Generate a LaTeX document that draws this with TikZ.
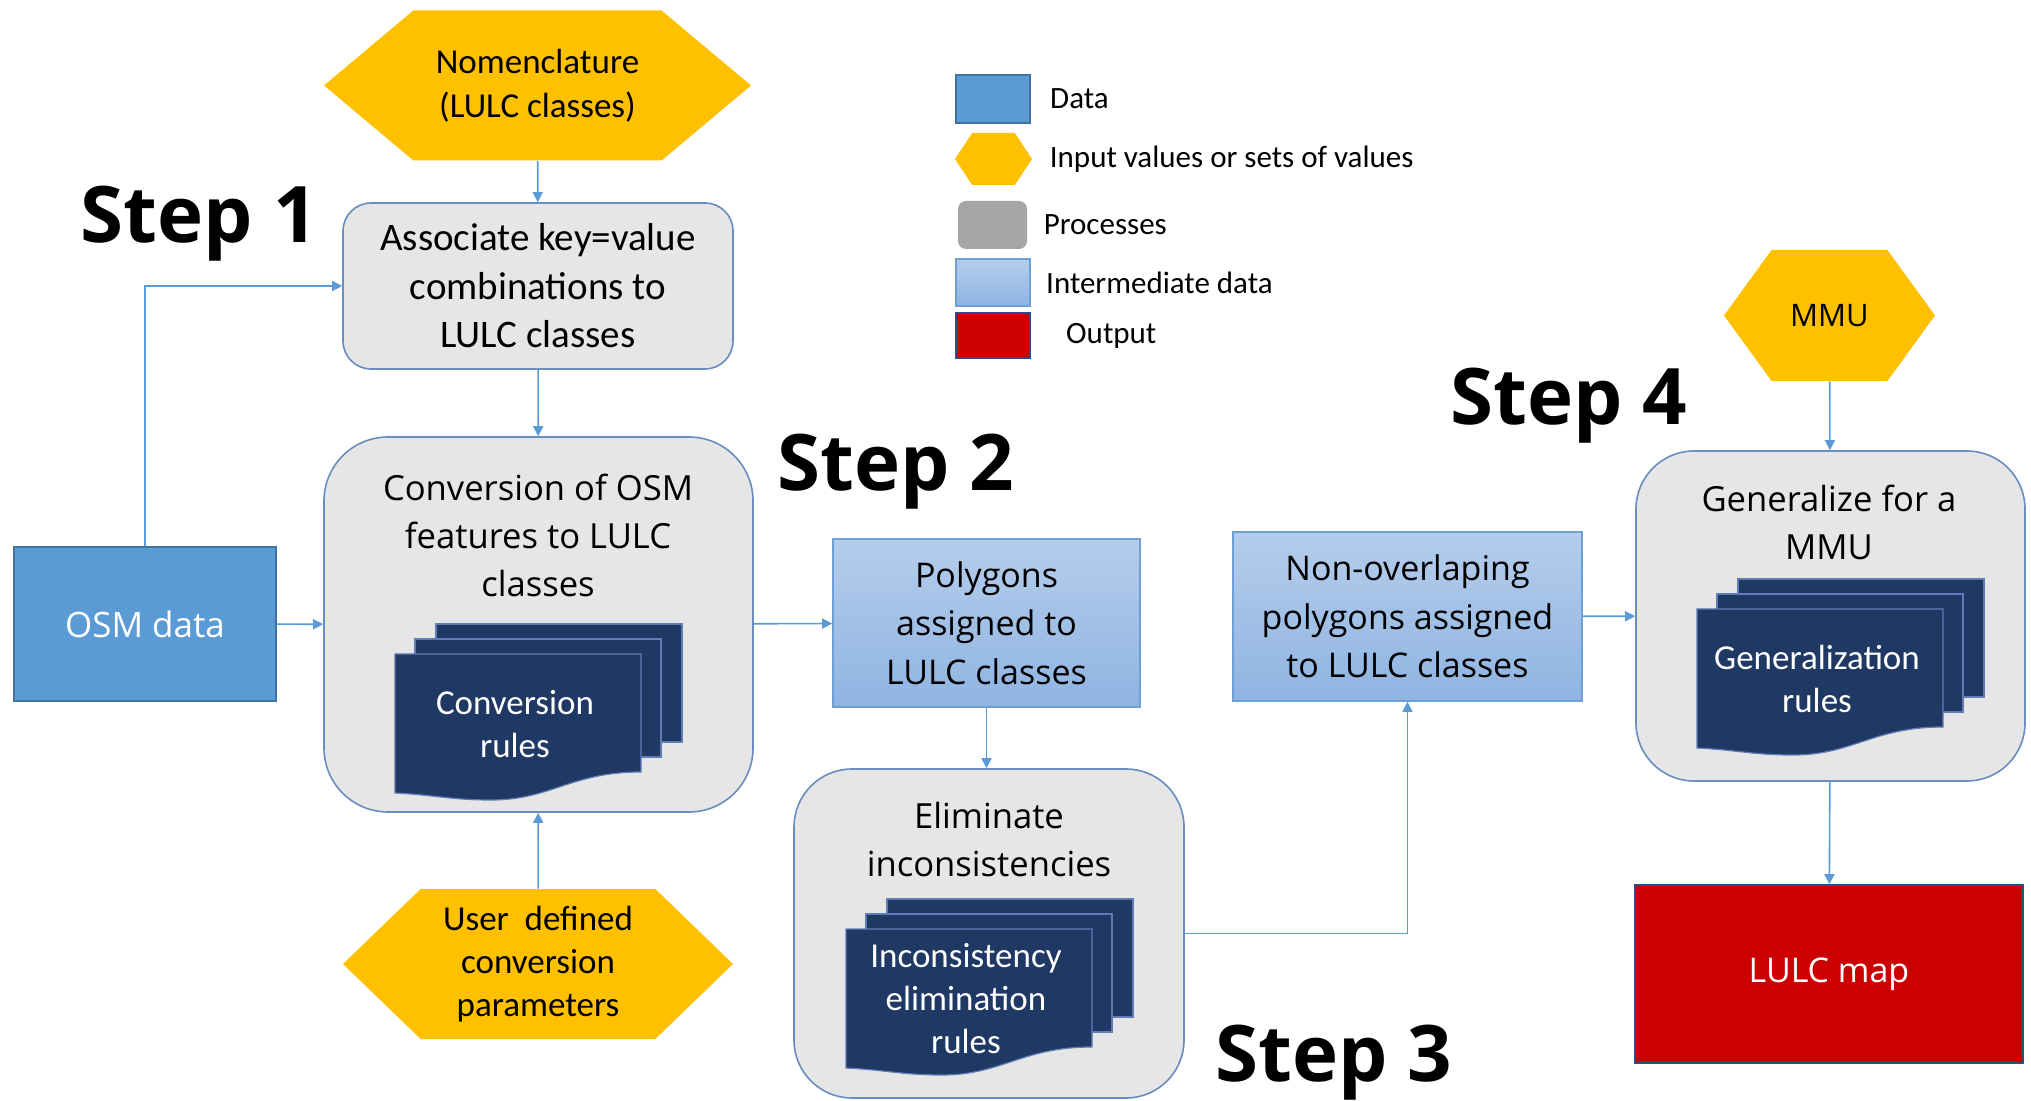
\documentclass[tikz,border=0pt]{standalone}
\usepackage{fontspec}
\setmainfont{Open Sans}
\newfontfamily\calib{Carlito}
\usetikzlibrary{arrows.meta,shapes.symbols,positioning}

\definecolor{datablue}{RGB}{91,155,213}
\definecolor{databorder}{RGB}{65,113,156}
\definecolor{inputgold}{RGB}{255,192,0}
\definecolor{procgray}{RGB}{230,230,230}
\definecolor{procline}{RGB}{104,141,190}
\definecolor{leggray}{RGB}{166,166,166}
\definecolor{interhigh}{RGB}{181,205,235}
\definecolor{interlow}{RGB}{143,180,226}
\definecolor{interline}{RGB}{110,160,215}
\definecolor{outred}{RGB}{204,0,0}
\definecolor{outborder}{RGB}{50,75,130}
\definecolor{docnavy}{RGB}{32,56,100}
\definecolor{docedge}{RGB}{95,125,180}
\definecolor{linkblue}{RGB}{91,155,213}

\tikzset{
  databox/.style={rectangle, fill=datablue, draw=databorder, line width=0.8pt,
    text=white, align=center, font=\fontsize{17.5}{24}\selectfont},
  inputhex/.style={signal, signal to=east and west, fill=inputgold, inner sep=0pt, align=center},
  procbox/.style={rectangle, rounded corners=#1, fill=procgray, draw=procline, line width=0.8pt},
  procbox/.default=14pt,
  interbox/.style={rectangle, top color=interhigh, bottom color=interlow, draw=interline,
    line width=0.8pt, align=center, font=\fontsize{17}{24.3}\selectfont},
  outbox/.style={rectangle, fill=outred, draw=outborder, line width=0.8pt,
    text=white, align=center, font=\fontsize{17}{24}\selectfont},
  rulesdoc/.style={fill=docnavy, draw=docedge, line width=0.6pt},
  ruletext/.style={text=white, align=center, inner sep=0pt, font=\calib\fontsize{17.5}{21.5}\selectfont},
  boxtext/.style={align=center, inner sep=0pt, font=\fontsize{17.3}{24}\selectfont},
  legtext/.style={inner sep=0pt, font=\calib\fontsize{15.5}{19}\selectfont},
  steplabel/.style={inner sep=0pt, font=\fontsize{39}{44}\selectfont\bfseries},
  flow/.style={draw=linkblue, line width=0.8pt, -{Triangle[length=5pt,width=5pt]}}
}

% stack of rule sheets: name, x, y (top left of front sheet), text
\newcommand{\rulestack}[4]{%
  \draw[rulesdoc] ({#2+41},{#3-30}) rectangle ++(246,118);
  \draw[rulesdoc] ({#2+20},{#3-15}) rectangle ++(246,118);
  \draw[rulesdoc] (#2,#3) -- ++(246,0) -- ++(0,118)
    .. controls +(-70,0) and +(60,0) .. ++(-150,28)
    .. controls +(-40,0) and +(40,2) .. ++(-96,-7) -- cycle;
  \node[ruletext] (#1) at ({#2+120},{#3+70}) {#4};
}

\begin{document}
\begin{tikzpicture}[x=0.5pt, y=-0.5pt]
  \path[use as bounding box, fill=white] (0,0) rectangle (2031,1101);

  % legend
  \node[databox, minimum width=37pt, minimum height=24pt] (leg-data) at (993,99) {};
  \node[legtext, right=9.5pt of leg-data] (leg-data-t) {Data};
  \node[inputhex, minimum width=38.5pt, minimum height=26pt, signal pointer angle=113] (leg-input) at (993.5,159) {};
  \node[legtext, right=8.5pt of leg-input] (leg-input-t) {Input values or sets of values};
  \node[fill=leggray, rounded corners=4pt, minimum width=34.5pt, minimum height=24pt] (leg-proc) at (992.5,225) {};
  \node[legtext, right=8pt of leg-proc] (leg-proc-t) {Processes};
  \node[interbox, minimum width=37pt, minimum height=23.5pt] (leg-inter) at (993,282.5) {};
  \node[legtext, right=7.5pt of leg-inter] (leg-inter-t) {Intermediate data};
  \node[outbox, minimum width=37pt, minimum height=22.5pt] (leg-out) at (993,335.5) {};
  \node[legtext, right=17.5pt of leg-out] (leg-out-t) {Output};

  % step 1
  \node[steplabel] (step1) at (199.5,224) {Step 1};
  \node[inputhex, minimum width=213.5pt, minimum height=75pt, signal pointer angle=80,
    font=\calib\fontsize{17.5}{22}\selectfont] (nomen) at (537.5,85.5) {Nomenclature\\(LULC classes)};
  \node[procbox=14pt, minimum width=195pt, minimum height=83pt, align=center,
    font=\calib\fontsize{19.5}{24.3}\selectfont] (assoc) at (538,286) {Associate key=value\\combinations to\\LULC classes};
  \node[databox, minimum width=131pt, minimum height=77pt] (osm) at (145,624) {OSM data};
  \node[procbox=32pt, minimum width=214.5pt, minimum height=187.5pt] (conv) at (538.5,624.5) {};
  \node[boxtext] (conv-t) at (538,535) {Conversion of OSM\\features to LULC\\classes};
  \rulestack{conv-rules}{395}{654}{Conversion\\rules}
  \node[inputhex, minimum width=195pt, minimum height=75pt, signal pointer angle=88,
    font=\calib\fontsize{17.5}{21.5}\selectfont] (user) at (538,964) {User\ \ defined\\conversion\\parameters};

  % step 2
  \node[steplabel] (step2) at (896,472) {Step 2};
  \node[interbox, minimum width=153.5pt, minimum height=84pt] (poly) at (986.5,623) {Polygons\\assigned to\\LULC classes};

  % step 3
  \node[steplabel] (step3) at (1334,1063) {Step 3};
  \node[procbox=29pt, minimum width=195pt, minimum height=164.5pt] (elim) at (989,933.5) {};
  \node[boxtext] (elim-t) at (989,840) {Eliminate\\inconsistencies};
  \rulestack{incons-rules}{846}{929}{Inconsistency\\elimination\\rules}
  \node[interbox, minimum width=174.5pt, minimum height=84.5pt] (nonov) at (1407.5,616.5) {Non-overlaping\\polygons assigned\\to LULC classes};

  % step 4
  \node[steplabel] (step4) at (1569,406) {Step 4};
  \node[inputhex, minimum width=105.5pt, minimum height=65.5pt, signal pointer angle=108,
    font=\fontsize{15.5}{20}\selectfont] (mmu) at (1829.5,315.5) {MMU};
  \node[procbox=29pt, minimum width=194.5pt, minimum height=165pt] (gen) at (1830.5,616) {};
  \node[boxtext] (gen-t) at (1829,522) {Generalize for a\\MMU};
  \rulestack{gen-rules}{1697}{609}{Generalization\\rules}
  \node[outbox, minimum width=194pt, minimum height=89pt] (map) at (1829,974) {LULC map};

  % connectors
  \draw[flow] (nomen) -- (assoc);
  \draw[flow] (assoc) -- (conv);
  \draw[flow] (osm.north) |- (assoc.west);
  \draw[flow] (osm) -- (conv);
  \draw[flow] (user) -- (conv);
  \draw[flow] (conv) -- (poly);
  \draw[flow] (poly.south) -- (poly.south |- elim.north);
  \draw[flow] (elim.east) -| (nonov.south);
  \draw[flow] (nonov) -- (gen);
  \draw[flow] (mmu) -- (gen);
  \draw[flow] (gen) -- (map);
\end{tikzpicture}
\end{document}
